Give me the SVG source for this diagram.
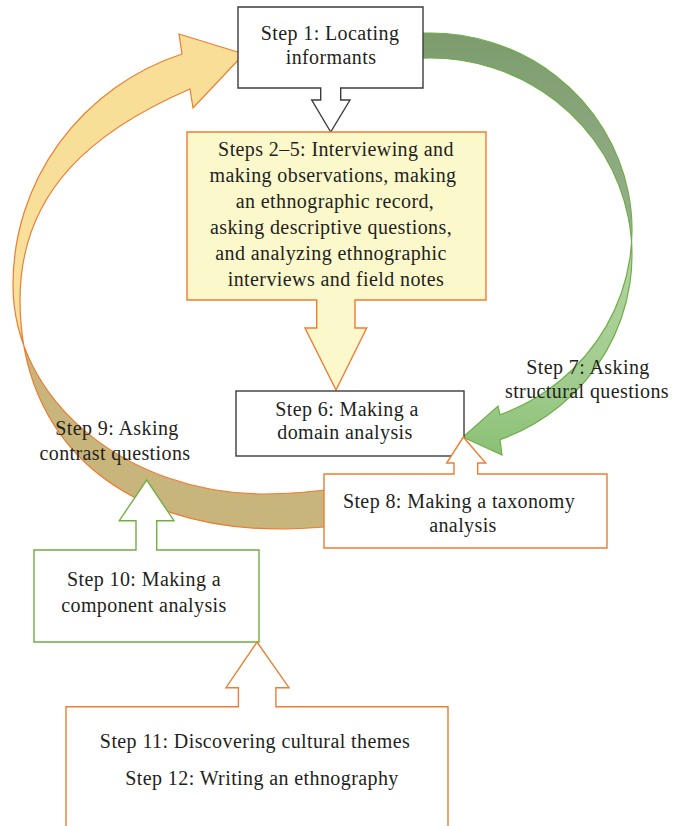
<svg xmlns="http://www.w3.org/2000/svg" width="675" height="826" viewBox="0 0 675 826">
<defs>
<style>
text{font-family:"Liberation Serif","Times New Roman",serif;font-size:20px;fill:#231F20;letter-spacing:0.4px;text-anchor:middle}
.dark{fill:#FFFFFF;stroke:#3C3C3C;stroke-width:1.4}
.orange{fill:#FFFFFF;stroke:#ED7D31;stroke-width:1.4}
.yel{fill:#FBF8CC;stroke:#ED7D31;stroke-width:1.4}
.green{fill:#FFFFFF;stroke:#70AD47;stroke-width:1.4}
</style>
<linearGradient id="gGreen" gradientUnits="userSpaceOnUse" x1="0" y1="30" x2="0" y2="460">
<stop offset="0" stop-color="#7C9C6D"/>
<stop offset="0.453" stop-color="#96B08B"/>
<stop offset="0.477" stop-color="#B3D5A3"/>
<stop offset="0.814" stop-color="#A2CC8F"/>
<stop offset="1" stop-color="#88C073"/>
</linearGradient>
<linearGradient id="gYel" gradientUnits="userSpaceOnUse" x1="0" y1="30" x2="0" y2="530">
<stop offset="0" stop-color="#F8DE96"/>
<stop offset="0.6" stop-color="#F8E09C"/>
<stop offset="0.615" stop-color="#C8B57C"/>
<stop offset="1" stop-color="#C8B57B"/>
</linearGradient>
</defs>
<rect width="675" height="826" fill="#FFFFFF"/>
<g id="connectors">
<path id="arrow-step7" d="M423,33.12 A202,197 0 0 1 500,414.79 L498,406 L463,437 L502,455 L500,439.79 A202,197 0 0 0 423,58.12 Z" fill="url(#gGreen)" stroke="#70AD47" stroke-width="1.2"/>
<path id="arrow-step9" d="M345,487 C320,491 290,494 265,494 C126,494 13,400 13,285 A247,243 0 0 1 182,54 L179,34 L244,54 L193,108 L190,89 C95,130 20,190 20,300 C20,440 120,529 280,529 C305,529 325,527 345,525 Z" fill="url(#gYel)" stroke="#ED7D31" stroke-width="1.2"/>
<text x="588" y="374">Step 7: Asking</text>
<text x="587" y="398">structural questions</text>
<text x="117" y="435">Step 9: Asking</text>
<text x="115" y="460">contrast questions</text>
</g>
<g id="step1">
<path class="dark" d="M238,7 H423 V88 H340.7 V100 H350 L330.7,132 L311.7,100 H320.7 V88 H238 Z"/>
<text x="330" y="40">Step 1: Locating</text>
<text x="331" y="64">informants</text>
</g>
<g id="steps2-5">
<path class="yel" d="M187,132 H486 V300 H355 V328 H366.7 L336,390 L305,328 H316.7 V300 H187 Z"/>
<text x="336" y="156">Steps 2–5: Interviewing and</text>
<text x="333" y="182">making observations, making</text>
<text x="335" y="208">an ethnographic record,</text>
<text x="331" y="234">asking descriptive questions,</text>
<text x="331" y="260">and analyzing ethnographic</text>
<text x="336" y="286">interviews and field notes</text>
</g>
<g id="step6">
<rect class="dark" x="236" y="391" width="228" height="65"/>
<text x="347" y="416">Step 6: Making a</text>
<text x="345" y="439">domain analysis</text>
</g>
<g id="step8">
<path class="orange" d="M324,474 H454 V463 H446.7 L463.3,437 L485.7,463 H477.7 V474 H607 V548 H324 Z"/>
<text x="459" y="508">Step 8: Making a taxonomy</text>
<text x="463" y="532">analysis</text>
</g>
<g id="step10">
<path class="green" d="M34,550 H136 V520.7 H119.3 L146.7,480 L174,520.7 H156.7 V550 H259 V642 H34 Z"/>
<text x="144" y="586">Step 10: Making a</text>
<text x="144" y="612">component analysis</text>
</g>
<g id="step11-12">
<path class="orange" d="M66,706.7 H238.4 V687.7 H226 L257,642 L289,687.7 H275.9 V706.7 H448 V840 H66 Z"/>
<text x="255" y="748">Step 11: Discovering cultural themes</text>
<text x="262" y="785">Step 12: Writing an ethnography</text>
</g>
</svg>
